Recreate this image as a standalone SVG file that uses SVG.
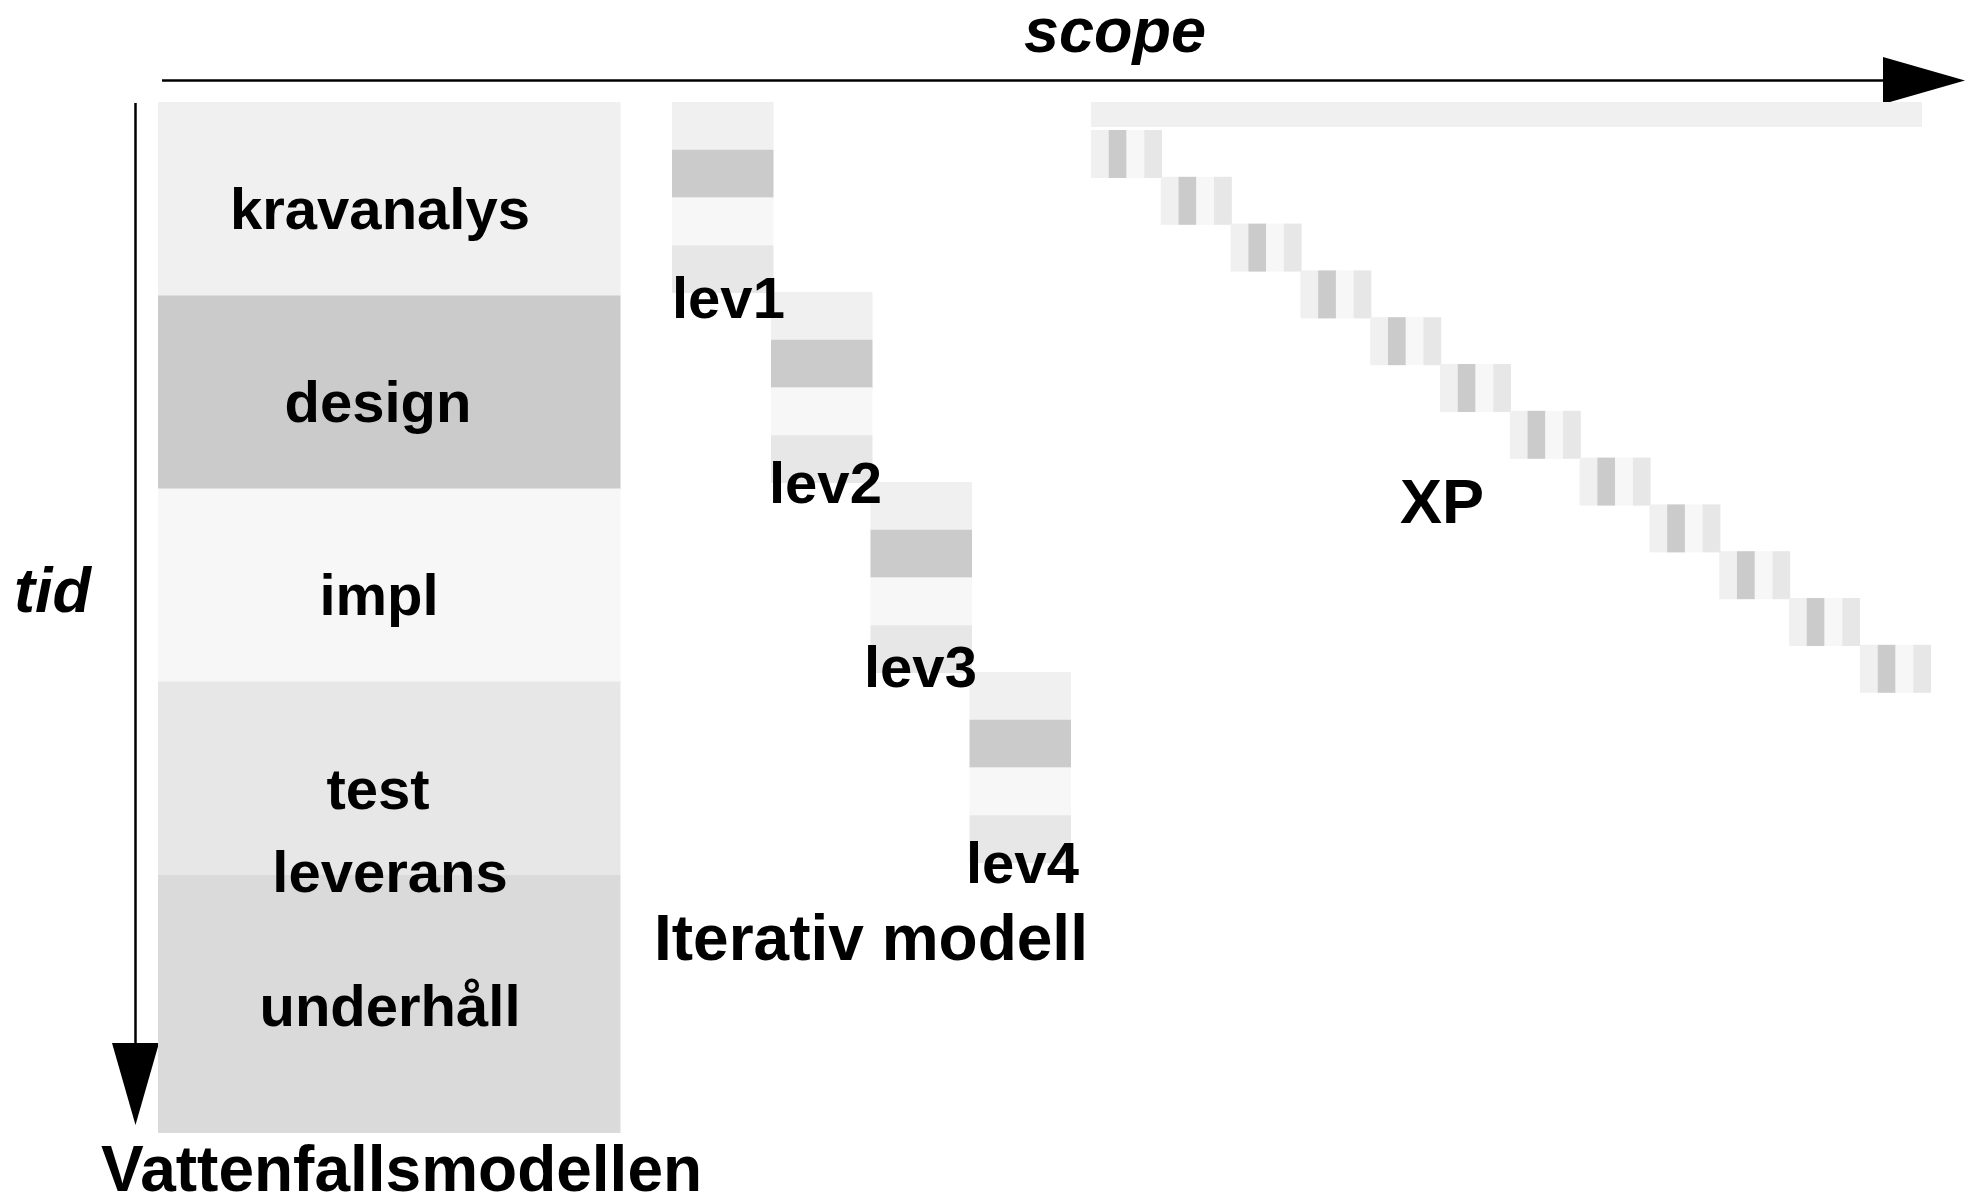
<svg xmlns="http://www.w3.org/2000/svg" xmlns:xlink="http://www.w3.org/1999/xlink" width="1981" height="1199" viewBox="0 0 1981 1199">
<style>
.c1{fill:#F0F0F0}.c2{fill:#CBCBCB}.c3{fill:#F7F7F7}.c4{fill:#E7E7E7}.c5{fill:#DADADA}
text{font-family:"Liberation Sans",Arial,Helvetica,sans-serif;font-weight:bold;fill:#000}
.lbl{font-size:58px}
.big{font-size:64px}
.ax{font-size:63px;font-style:italic}
.axis{stroke:#000;stroke-width:2.5;fill:none}
</style>
<defs>
<marker id="arr" viewBox="0 0 82 47" refX="0" refY="23.5" markerWidth="82" markerHeight="47" markerUnits="userSpaceOnUse" orient="auto">
<path d="M0,0 L82,23.5 L0,47 Z" fill="#000"/>
</marker>
<g id="itercol">
<rect class="c1" x="0" y="0" width="101.5" height="48"/>
<rect class="c2" x="0" y="47.75" width="101.5" height="48"/>
<rect class="c3" x="0" y="95.5" width="101.5" height="48"/>
<rect class="c4" x="0" y="143.25" width="101.5" height="47.75"/>
</g>
<g id="xpblock">
<rect class="c1" x="0" y="0" width="18" height="48"/>
<rect class="c2" x="17.75" y="0" width="18" height="48"/>
<rect class="c3" x="35.5" y="0" width="18" height="48"/>
<rect class="c4" x="53.25" y="0" width="17.75" height="48"/>
</g>
</defs>
<rect width="1981" height="1199" fill="#fff"/>

<g id="connectors">
<line class="axis" x1="162" y1="80.5" x2="1883" y2="80.5" marker-end="url(#arr)"/>
<line class="axis" x1="135.5" y1="103" x2="135.5" y2="1043" marker-end="url(#arr)"/>
</g>

<g id="axis-labels">
<text class="ax" x="1115" y="52" text-anchor="middle">scope</text>
<text class="ax" x="14" y="612">tid</text>
</g>

<g id="waterfall">
<g id="wf-kravanalys"><rect class="c1" x="158" y="102" width="462.5" height="194"/><text class="lbl" x="380" y="229" text-anchor="middle">kravanalys</text></g>
<g id="wf-design"><rect class="c2" x="158" y="295.5" width="462.5" height="193.5"/><text class="lbl" x="378" y="422" text-anchor="middle">design</text></g>
<g id="wf-impl"><rect class="c3" x="158" y="488.5" width="462.5" height="193.5"/><text class="lbl" x="379" y="615" text-anchor="middle">impl</text></g>
<g id="wf-test"><rect class="c4" x="158" y="681.5" width="462.5" height="194"/><text class="lbl" x="378" y="809" text-anchor="middle">test</text></g>
<g id="wf-underhall"><rect class="c5" x="158" y="875" width="462.5" height="258"/><text class="lbl" x="390" y="1026" text-anchor="middle">underhåll</text></g>
<g id="wf-leverans"><text class="lbl" x="390" y="892" text-anchor="middle">leverans</text></g>
<g id="wf-title"><text class="big" x="101" y="1191">Vattenfallsmodellen</text></g>
</g>

<g id="iterative">
<g id="iter-4"><use xlink:href="#itercol" href="#itercol" x="969.5" y="672"/><text class="lbl" x="966" y="883">lev4</text></g>
<g id="iter-3"><use xlink:href="#itercol" href="#itercol" x="870.5" y="482"/><text class="lbl" x="864" y="687">lev3</text></g>
<g id="iter-2"><use xlink:href="#itercol" href="#itercol" x="771" y="292"/><text class="lbl" x="769" y="503">lev2</text></g>
<g id="iter-1"><use xlink:href="#itercol" href="#itercol" x="672" y="102"/><text class="lbl" x="672" y="318">lev1</text></g>
<g id="iter-title"><text class="big" x="654" y="960">Iterativ modell</text></g>
</g>

<g id="xp">
<g id="xp-bar"><rect class="c1" x="1091" y="102" width="831" height="25"/></g>
<g id="xp-1"><use xlink:href="#xpblock" href="#xpblock" x="1091" y="130"/></g>
<g id="xp-2"><use xlink:href="#xpblock" href="#xpblock" x="1160.8" y="176.8"/></g>
<g id="xp-3"><use xlink:href="#xpblock" href="#xpblock" x="1230.6" y="223.6"/></g>
<g id="xp-4"><use xlink:href="#xpblock" href="#xpblock" x="1300.4" y="270.4"/></g>
<g id="xp-5"><use xlink:href="#xpblock" href="#xpblock" x="1370.2" y="317.2"/></g>
<g id="xp-6"><use xlink:href="#xpblock" href="#xpblock" x="1440" y="364"/></g>
<g id="xp-7"><use xlink:href="#xpblock" href="#xpblock" x="1509.8" y="410.8"/></g>
<g id="xp-8"><use xlink:href="#xpblock" href="#xpblock" x="1579.6" y="457.6"/></g>
<g id="xp-9"><use xlink:href="#xpblock" href="#xpblock" x="1649.4" y="504.4"/></g>
<g id="xp-10"><use xlink:href="#xpblock" href="#xpblock" x="1719.2" y="551.2"/></g>
<g id="xp-11"><use xlink:href="#xpblock" href="#xpblock" x="1789" y="598"/></g>
<g id="xp-12"><use xlink:href="#xpblock" href="#xpblock" x="1860" y="644.8"/></g>
<g id="xp-title"><text class="big" x="1400" y="523" style="font-size:63px">XP</text></g>
</g>
</svg>
